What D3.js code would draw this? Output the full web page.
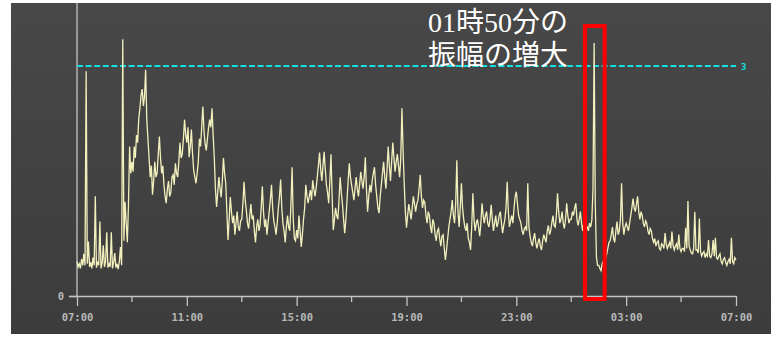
<!DOCTYPE html>
<html>
<head>
<meta charset="utf-8">
<script src="https://cdn.jsdelivr.net/npm/d3@7"></script>
<style>
  html, body { margin: 0; padding: 0; background: #ffffff; }
  svg { display: block; }
</style>
</head>
<body>
<svg id="chart" width="778" height="339"></svg>
<script>
// Seismic amplitude record, one reading every 2.5 minutes from 07:00 to 07:00 next day
const startTime = "07:00";
const stepSeconds = 150;
const amplitude = [
  // 07:00
  0.45,0.38,0.42,0.36,0.48,0.40,0.55,0.40,2.93,0.42,0.71,0.38,0.44,0.36,0.50,0.40,1.30,0.37,0.45,0.40,0.97,0.36,0.43,0.66,
  // 08:00
  0.38,0.45,0.83,0.37,0.42,0.38,0.83,0.36,0.44,0.56,0.37,0.42,0.35,0.45,0.64,0.40,3.35,0.72,1.23,0.95,0.70,1.20,1.95,1.60,
  // 09:00
  1.75,1.62,1.95,1.80,2.10,2.00,2.32,2.45,2.62,2.70,2.48,2.60,2.95,2.30,2.05,1.80,1.55,1.70,1.32,1.50,1.75,1.55,1.60,1.85,
  // 10:00
  2.08,1.80,1.60,1.70,1.45,1.30,1.21,1.40,1.50,1.30,1.35,1.55,1.58,1.45,1.73,1.60,1.55,1.75,2.00,1.80,1.85,2.05,2.30,2.10,
  // 11:00
  2.00,2.20,1.81,1.95,2.17,1.85,1.64,1.55,1.47,1.60,1.75,2.05,1.95,2.20,2.47,2.15,1.98,1.90,2.05,2.20,2.30,2.20,2.45,2.10,
  // 12:00
  1.80,1.40,1.16,1.35,1.55,1.40,1.29,1.50,1.80,1.60,1.47,1.10,0.73,1.00,1.29,1.10,0.95,1.05,0.80,0.95,1.10,0.90,0.85,0.98,
  // 13:00
  1.00,1.20,1.49,1.25,1.12,0.95,0.88,1.05,1.20,1.00,1.05,0.85,0.70,0.90,1.00,0.85,0.92,1.15,1.43,1.10,0.90,1.00,0.80,0.95,
  // 14:00
  1.10,1.25,1.45,1.15,0.98,0.90,0.80,0.95,1.15,1.30,1.52,1.15,0.95,0.85,0.70,0.90,1.05,0.90,0.85,1.20,1.68,1.00,0.75,0.72,
  // 15:00
  0.86,0.75,1.05,0.85,0.64,0.80,1.00,1.15,1.45,1.30,1.21,1.30,1.38,1.25,1.51,1.40,1.30,1.40,1.55,1.70,1.87,1.65,1.50,1.70,
  // 16:00
  1.88,1.65,1.45,1.35,1.21,1.50,1.85,1.30,0.86,1.00,1.15,1.05,1.00,1.25,1.55,1.35,1.20,1.00,0.82,1.00,1.25,1.50,1.73,1.55,
  // 17:00
  1.45,1.35,1.25,1.40,1.55,1.40,1.30,1.45,1.62,1.50,1.40,1.55,1.81,1.40,1.10,1.30,1.45,1.35,1.50,1.60,1.68,1.45,1.30,1.15,
  // 18:00
  1.08,1.30,1.45,1.60,1.75,1.55,1.40,1.65,1.95,1.70,1.50,1.75,2.00,1.80,1.62,1.75,1.85,1.70,1.55,1.80,2.45,1.90,1.47,1.10,
  // 19:00
  0.89,1.05,1.20,1.10,1.00,1.15,1.30,1.20,1.10,1.20,1.25,1.40,1.58,1.30,1.15,1.25,1.22,1.05,0.95,1.10,1.05,0.90,0.82,1.00,
  // 20:00
  0.95,0.80,0.72,0.85,0.88,0.75,0.65,0.78,0.80,0.62,0.47,0.60,0.75,0.90,1.00,1.10,1.25,1.05,0.95,1.20,1.77,1.10,0.90,1.15,
  // 21:00
  1.47,1.15,1.00,0.90,0.85,0.95,0.75,0.70,0.60,0.90,1.34,1.00,0.85,0.95,1.00,0.90,0.78,0.95,1.21,1.05,0.95,1.05,1.10,0.95,
  // 22:00
  0.90,1.00,1.19,1.00,0.85,0.95,1.05,0.90,0.95,1.05,1.10,0.95,0.82,0.92,1.00,1.15,1.49,1.10,0.90,0.98,1.05,0.95,1.15,1.30,
  // 23:00
  1.36,1.20,1.05,1.00,0.95,0.85,0.80,0.88,0.90,0.85,1.47,0.90,0.78,0.70,0.65,0.75,0.82,0.70,0.62,0.70,0.75,0.65,0.60,0.72,
  // 00:00
  0.80,0.75,0.70,0.85,0.92,0.80,0.85,0.95,1.05,0.92,0.90,1.05,1.34,1.10,0.95,1.00,1.10,0.95,0.88,1.00,1.21,1.05,0.95,1.00,
  // 01:00
  1.00,1.10,1.05,1.15,1.21,1.00,0.92,1.00,1.10,0.95,0.85,0.95,1.00,0.92,0.90,0.85,0.95,0.90,0.99,1.40,3.30,1.20,0.51,0.40,
  // 02:00
  0.40,0.36,0.33,0.42,0.45,0.38,0.50,0.55,0.62,0.70,0.72,0.80,0.90,0.75,0.70,0.85,0.97,0.80,0.85,1.00,1.47,0.95,0.80,0.90,
  // 03:00
  0.95,0.90,0.85,0.95,1.05,1.15,1.27,1.15,1.10,1.20,1.30,1.10,1.00,1.10,1.05,0.95,0.90,0.98,0.95,0.85,0.80,0.88,0.85,0.75,
  // 04:00
  0.70,0.75,0.65,0.70,0.72,0.62,0.60,0.68,0.66,0.62,0.82,0.68,0.62,0.66,0.70,0.62,0.84,0.66,0.60,0.65,0.68,0.60,0.80,0.62,
  // 05:00
  0.58,0.62,0.62,0.58,0.89,0.62,1.24,0.65,0.60,0.56,0.55,0.62,1.10,0.60,0.60,0.56,1.01,0.58,0.52,0.56,0.58,0.50,0.55,0.52,
  // 06:00
  0.73,0.52,0.50,0.55,0.73,0.52,0.76,0.50,0.48,0.52,0.55,0.45,0.42,0.48,0.50,0.44,0.40,0.45,0.48,0.42,0.76,0.45,0.42,0.50,
  0.47
];
const yTickValues = [0];
const thresholdValue = 3;
const thresholdLabel = "3";
const majorTickHours = 4;
const minorTickHours = 2;
const highlightStart = "01:30";
const highlightEnd = "02:13";
const noteLines = ["01時50分の", "振幅の増大"];

const parseClock = d3.timeParse("%Y-%m-%d %H:%M");
const t0 = parseClock("2000-01-01 " + startTime);
const t1 = d3.timeDay.offset(t0, 1);
const series = amplitude.map((v, i) => ({ t: d3.timeSecond.offset(t0, i * stepSeconds), v }));

const svg = d3.select("#chart");

// panel background
const defs = svg.append("defs");
const grad = defs.append("linearGradient").attr("id", "panelBg")
  .attr("x1", 0).attr("y1", 0).attr("x2", 0).attr("y2", 1);
grad.append("stop").attr("offset", "0%").attr("stop-color", "#484848");
grad.append("stop").attr("offset", "100%").attr("stop-color", "#3c3c3c");
svg.append("rect").attr("x", 11).attr("y", 3).attr("width", 760).attr("height", 331)
  .attr("fill", "url(#panelBg)");

const x = d3.scaleTime().domain([t0, t1]).range([77, 736]);
const y = d3.scaleLinear().domain([0, 3]).range([296, 66]);

const axisColor = "#c4c4c4";
const labelFont = "'DejaVu Sans Mono', 'Liberation Mono', monospace";

// y axis line up to the top of the panel
svg.append("line").attr("x1", x(t0)).attr("x2", x(t0)).attr("y1", 3).attr("y2", y(0))
  .attr("stroke", axisColor).attr("stroke-width", 1.3);

// y axis zero tick
const yAxis = d3.axisLeft(y).tickValues(yTickValues).tickSize(8).tickPadding(5).tickFormat(d3.format("d"));
const gy = svg.append("g").attr("transform", `translate(${x(t0)},0)`).call(yAxis);
gy.select(".domain").remove();
gy.selectAll("line").attr("stroke", axisColor).attr("stroke-width", 1.3);
gy.selectAll("text").attr("fill", "#b8b8b8").style("font-family", labelFont)
  .style("font-size", "10.5px").style("font-weight", "bold");

// x axis: major ticks with labels, minor ticks between
const xAxis = d3.axisBottom(x)
  .tickValues(d3.timeHour.range(t0, d3.timeMinute.offset(t1, 1), majorTickHours))
  .tickFormat(d3.timeFormat("%H:%M")).tickSize(10).tickPadding(8);
const gx = svg.append("g").attr("transform", `translate(0,${y(0)})`).call(xAxis);
gx.select(".domain").attr("stroke", axisColor).attr("stroke-width", 1.3)
  .attr("d", `M${x(t0) - 8},0.5H${x(t1)}`);
gx.selectAll(".tick line").attr("stroke", axisColor).attr("stroke-width", 1.3);
gx.selectAll("text").attr("fill", "#b8b8b8").style("font-family", labelFont)
  .style("font-size", "10.5px").style("font-weight", "bold");

const minorTicks = d3.timeHour.range(t0, t1, minorTickHours)
  .filter(d => (d - t0) / 3600000 % majorTickHours !== 0);
svg.append("g").selectAll("line").data(minorTicks).join("line")
  .attr("x1", d => x(d)).attr("x2", d => x(d))
  .attr("y1", y(0)).attr("y2", y(0) + 6)
  .attr("stroke", axisColor).attr("stroke-width", 1.3);

// threshold reference line
svg.append("line")
  .attr("x1", x(t0)).attr("x2", x(t1)).attr("y1", y(thresholdValue)).attr("y2", y(thresholdValue))
  .attr("stroke", "#10e0e0").attr("stroke-width", 2.2).attr("stroke-dasharray", "6,2.6");
svg.append("text").attr("x", x(t1) + 5).attr("y", y(thresholdValue) + 4)
  .attr("fill", "#10e0e0").style("font-family", labelFont).style("font-size", "9px")
  .style("font-weight", "bold").text(thresholdLabel);

// amplitude trace
const line = d3.line().x(d => x(d.t)).y(d => y(d.v));
svg.append("path").datum(series)
  .attr("d", line).attr("fill", "none")
  .attr("stroke", "#f2f0bc").attr("stroke-width", 1.3).attr("stroke-linejoin", "miter");

// highlight box around the 01:50 event
const hs = parseClock("2000-01-02 " + highlightStart);
const he = parseClock("2000-01-02 " + highlightEnd);
svg.append("rect")
  .attr("x", x(hs)).attr("y", 26)
  .attr("width", x(he) - x(hs)).attr("height", y(0) + 3 - 26)
  .attr("fill", "none").attr("stroke", "#ff0000").attr("stroke-width", 4);

// note
const note = svg.append("text").attr("fill", "#ffffff")
  .style("font-family", "'Liberation Serif', 'Noto Sans CJK JP', serif").style("font-size", "28px");
noteLines.forEach((s, i) => {
  note.append("tspan").attr("x", 428).attr("y", 32 + i * 33).text(s);
});
</script>
</body>
</html>
